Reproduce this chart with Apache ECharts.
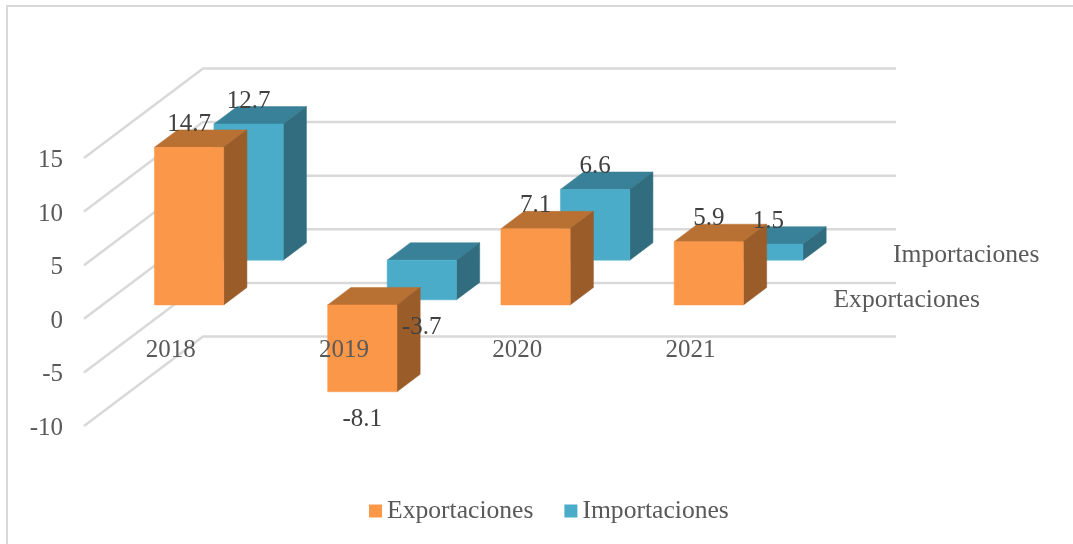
<!DOCTYPE html>
<html>
<head>
<meta charset="utf-8">
<script src="https://cdn.jsdelivr.net/npm/echarts@6/dist/echarts.min.js"></script>
<style>
  html, body { margin: 0; padding: 0; background: #fff; }
  #chart { width: 1073px; height: 544px; }
</style>
</head>
<body>
<div id="chart"></div>
<script>
var categories = ["2018", "2019", "2020", "2021"];
var exportaciones = [14.7, -8.1, 7.1, 5.9];
var importaciones = [12.7, -3.7, 6.6, 1.5];
var yTicks = [-10, -5, 0, 5, 10, 15];

var FONT = '"Liberation Serif", serif';
// oblique projection: how far the back wall sits from the front plane
var WALL_DX = 119;
var WALL_DY = -89.5;
var BAR_RATIO = 0.4;
var BAR_DEPTH = 0.195;

var colors = {
  exp: { front: "#fa9748", top: "#b97133", side: "#9a5d2a" },
  imp: { front: "#4aacc8", top: "#388198", side: "#316d7f" },
};

// shift a point by a depth fraction (0 = front plane, 1 = back wall)
function project(p, depth) {
  return [p[0] + WALL_DX * depth, p[1] + WALL_DY * depth];
}

function face(points, color) {
  return {
    type: "polygon",
    shape: { points: points },
    style: { fill: color, stroke: color, lineWidth: 0.5 },
  };
}

function renderWall(params, api) {
  var v = api.value(1);
  var half = api.size([1, 0])[0] / 2;
  var first = api.coord([0, v]);
  var last = api.coord([categories.length - 1, v]);
  var start = [first[0] - half, first[1]];
  var end = [last[0] + half, last[1]];
  return {
    type: "polyline",
    shape: { points: [start, project(start, 1), project(end, 1)] },
    style: { stroke: "#d9d9d9", lineWidth: 2.5, fill: null },
  };
}

function barRenderer(depth, c) {
  return function (params, api) {
    var i = api.value(0);
    var v = api.value(1);
    var w = api.size([1, 0])[0] * BAR_RATIO;
    var a = api.coord([i, v]);
    var b = api.coord([i, 0]);
    var x0 = a[0] - w / 2;
    var x1 = a[0] + w / 2;
    var yTop = Math.min(a[1], b[1]);
    var yBot = Math.max(a[1], b[1]);
    var tl = project([x0, yTop], depth);
    var tr = project([x1, yTop], depth);
    var br = project([x1, yBot], depth);
    var bl = project([x0, yBot], depth);
    return {
      type: "group",
      children: [
        face([tl, tr, project(tr, BAR_DEPTH), project(tl, BAR_DEPTH)], c.top),
        face([tr, br, project(br, BAR_DEPTH), project(tr, BAR_DEPTH)], c.side),
        face([tl, tr, br, bl], c.front),
      ],
    };
  };
}

function labelRenderer(depth) {
  return function (params, api) {
    var i = api.value(0);
    var v = api.value(1);
    var p = project(api.coord([i, v]), depth);
    return {
      type: "text",
      style: {
        x: p[0],
        y: p[1] + (v < 0 ? 28 : -23),
        text: String(v),
        font: "25px " + FONT,
        fill: "#404040",
        align: "center",
        verticalAlign: "middle",
      },
    };
  };
}

function depthLabel(name, depth) {
  return {
    type: "custom",
    coordinateSystem: "cartesian2d",
    silent: true,
    z: 3,
    data: [[categories.length - 1, 0]],
    renderItem: function (params, api) {
      var half = api.size([1, 0])[0] / 2;
      var c = api.coord([api.value(0), 0]);
      var p = project([c[0] + half, c[1]], depth);
      return {
        type: "text",
        style: {
          x: p[0] + 38,
          y: p[1] - 5,
          text: name,
          font: "25.6px " + FONT,
          fill: "#595959",
          align: "left",
          verticalAlign: "middle",
        },
      };
    },
  };
}

function pairs(values) {
  return values.map(function (v, i) {
    return [i, v];
  });
}

var IMP_DEPTH = 0.655;
var EXP_DEPTH = 0.155;

var chart = echarts.init(document.getElementById("chart"));
chart.setOption({
  animation: false,
  backgroundColor: "#fff",
  graphic: [
    {
      type: "polyline",
      shape: { points: [[7, 544], [7, 6], [1073, 6]] },
      style: { stroke: "#d9d9d9", lineWidth: 2, fill: null },
    },
  ],
  legend: {
    left: 369,
    top: 498,
    padding: 0,
    itemWidth: 13,
    itemHeight: 13,
    itemGap: 31,
    icon: "rect",
    data: ["Exportaciones", "Importaciones"],
    textStyle: { fontFamily: FONT, fontSize: 25.6, color: "#595959" },
  },
  grid: { left: 84, top: 158, width: 693, height: 268 },
  xAxis: {
    type: "category",
    data: categories,
    z: 5,
    offset: -108,
    axisLine: { show: false, onZero: false },
    axisTick: { show: false },
    axisLabel: { margin: 20, fontFamily: FONT, fontSize: 25, color: "#595959" },
    splitLine: { show: false },
  },
  yAxis: {
    type: "value",
    min: yTicks[0],
    max: yTicks[yTicks.length - 1],
    interval: 5,
    axisLine: { show: false },
    axisTick: { show: false },
    splitLine: { show: false },
    axisLabel: {
      margin: 21,
      formatter: "{v|{value}}",
      rich: {
        v: {
          padding: [5, 0, 0, 0],
          fontFamily: FONT,
          fontSize: 25,
          color: "#595959",
        },
      },
    },
  },
  series: [
    {
      type: "custom",
      silent: true,
      z: 1,
      data: yTicks.map(function (v) {
        return [0, v];
      }),
      renderItem: renderWall,
    },
    {
      name: "Importaciones",
      type: "custom",
      z: 2,
      itemStyle: { color: colors.imp.front },
      data: pairs(importaciones),
      renderItem: barRenderer(IMP_DEPTH, colors.imp),
    },
    {
      name: "Exportaciones",
      type: "custom",
      z: 3,
      itemStyle: { color: colors.exp.front },
      data: pairs(exportaciones),
      renderItem: barRenderer(EXP_DEPTH, colors.exp),
    },
    depthLabel("Importaciones", IMP_DEPTH),
    depthLabel("Exportaciones", EXP_DEPTH),
    {
      type: "custom",
      silent: true,
      z: 6,
      data: pairs(importaciones),
      renderItem: labelRenderer(IMP_DEPTH),
    },
    {
      type: "custom",
      silent: true,
      z: 6,
      data: pairs(exportaciones),
      renderItem: labelRenderer(EXP_DEPTH),
    },
  ],
});
</script>
</body>
</html>
